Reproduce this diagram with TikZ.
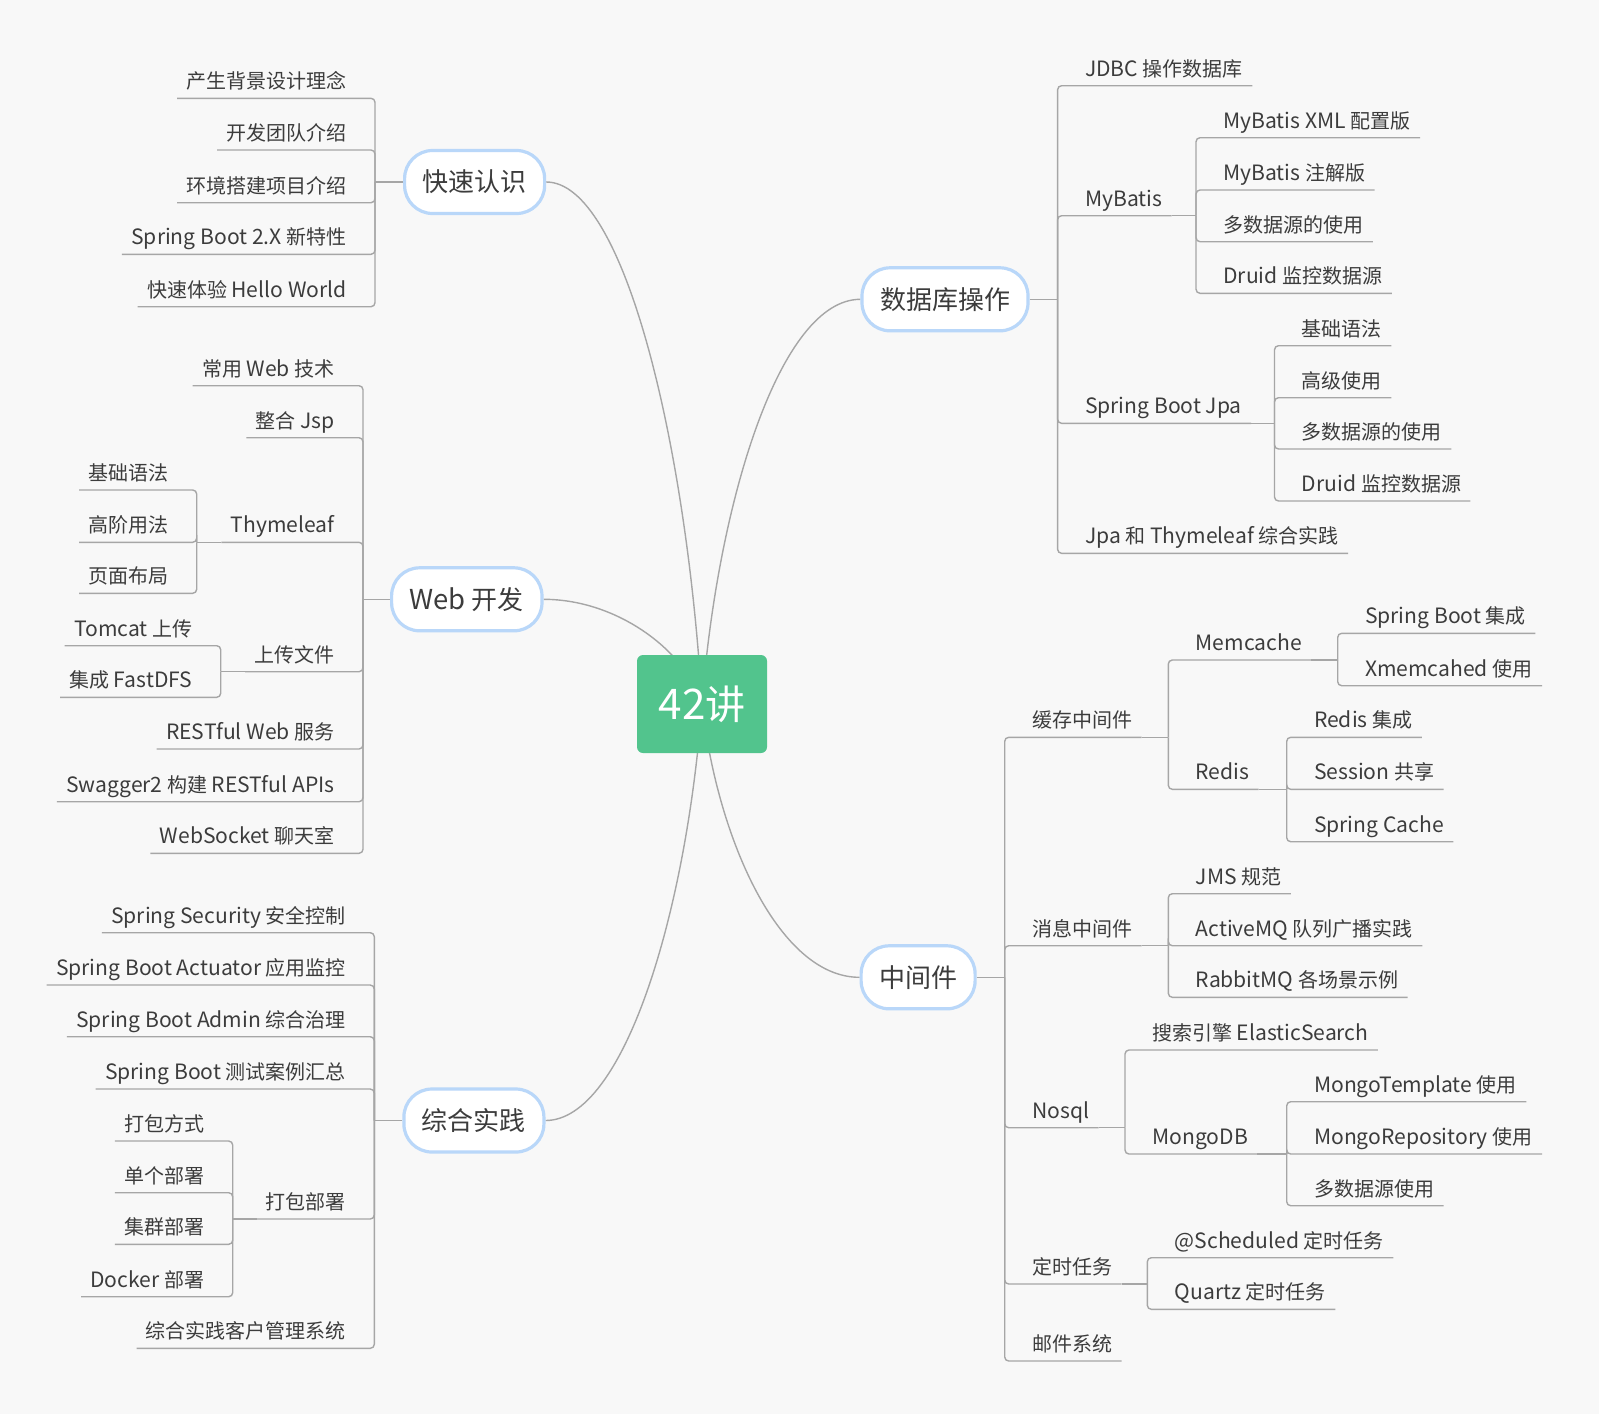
\documentclass[tikz,border=0pt]{standalone}
\usepackage{fontspec}
\setmainfont{Noto Sans CJK SC}[Scale=1.055]
\newfontfamily\cjkfont{Noto Sans CJK SC}
\newfontfamily\latinfont{Noto Sans CJK SC}[Scale=1.055]
\ifdefined\newXeTeXintercharclass
  \newXeTeXintercharclass\cjkcls
\else
  \chardef\cjkcls=1
\fi
\newcount\tmpc
\tmpc="4E00
\loop
  \XeTeXcharclass\tmpc=\cjkcls
  \advance\tmpc by 1
\ifnum\tmpc<"A000 \repeat
\XeTeXinterchartoks 0 \cjkcls = {\cjkfont}
\XeTeXinterchartoks 4095 \cjkcls = {\cjkfont}
\XeTeXinterchartoks \cjkcls 0 = {\latinfont}
\XeTeXinterchartoks 4095 0 = {\latinfont}
\XeTeXinterchartokenstate=1
\usetikzlibrary{calc}
\definecolor{bgc}{HTML}{F8F8F8}
\definecolor{lc}{HTML}{A6A6A6}
\definecolor{txt}{HTML}{3C3C3C}
\definecolor{tb}{HTML}{B9D7F9}
\definecolor{cgreen}{HTML}{52C48D}
\pgfdeclarelayer{bg}
\pgfsetlayers{bg,main}
\tikzset{
  lbl/.style={font=\fontsize{10}{12}\selectfont, text=txt, inner xsep=4.5pt, inner ysep=4.5pt, text depth=0pt},
  lblL/.style={lbl, anchor=south east},
  lblR/.style={lbl, anchor=south west},
  topic/.style={draw=tb, line width=1.6pt, fill=white, rounded corners=14pt, minimum height=31.5pt, inner xsep=9pt, inner ysep=0pt, font=\fontsize{13}{15}\selectfont, text=txt},
  centre/.style={fill=cgreen, rounded corners=3pt, minimum width=65pt, minimum height=49pt, inner sep=0pt, text=white, font=\fontsize{20}{24}\selectfont},
  conn/.style={draw=lc, line width=0.7pt, rounded corners=2pt},
  curve/.style={draw=lc, line width=0.7pt},
}
\begin{document}
\begin{tikzpicture}[x=0.5pt,y=-0.5pt]
\useasboundingbox (0,0) rectangle (1599,1414);
\begin{pgfonlayer}{bg}
\fill[bgc] (0,0) rectangle (1599,1414);
\end{pgfonlayer}

% centre and main topics
\node[centre] (c) at (702,704) {42讲};
\node[topic, anchor=west] (t1) at (403,182) {快速认识};
\node[topic, anchor=west] (t2) at (390,599.3) {Web 开发};
\node[topic, anchor=west] (t3) at (402.3,1120.5) {综合实践};
\node[topic, anchor=east] (t4) at (1029.6,299.3) {数据库操作};
\node[topic, anchor=east] (t5) at (976.7,977.3) {中间件};

\begin{pgfonlayer}{bg}
\draw[curve] (t1.east) .. controls (624,182) and (686.4,443) .. (c.center);
\draw[curve] (t2.east) .. controls (618,599.3) and (686.4,651.6) .. (c.center);
\draw[curve] (t3.east) .. controls (624,1120.5) and (686.4,912.3) .. (c.center);
\draw[curve] (t4.west) .. controls (780,299.3) and (717.6,501.6) .. (c.center);
\draw[curve] (t5.west) .. controls (779.6,977.3) and (717.5,840.6) .. (c.center);
\end{pgfonlayer}

% ---------- 快速认识 ----------
\coordinate (j1) at ($(t1.west)+(-28,0)$);
\draw[conn] (t1.west) -- (j1);
\node[lblL] (a1) at (356,98.3) {产生背景设计理念};
\node[lblL] (a2) at (356,150) {开发团队介绍};
\node[lblL] (a3) at (356,202.7) {环境搭建项目介绍};
\node[lblL] (a4) at (356,254.3) {Spring Boot 2.X 新特性};
\node[lblL] (a5) at (356,306.7) {快速体验 Hello World};
\foreach \n in {a1,a2,a3,a4,a5}
  \draw[conn] (j1) |- (\n.south east) -- (\n.south west);

% ---------- Web 开发 ----------
\coordinate (j2) at ($(t2.west)+(-27,0)$);
\draw[conn] (t2.west) -- (j2);
\node[lblL] (b1) at (344,385.7) {常用 Web 技术};
\node[lblL] (b2) at (344,437.7) {整合 Jsp};
\node[lblL] (b3) at (344,542.3) {Thymeleaf};
\node[lblL] (b4) at (344,671.7) {上传文件};
\node[lblL] (b5) at (344,749) {RESTful Web 服务};
\node[lblL] (b6) at (344,801.7) {Swagger2 构建 RESTful APIs};
\node[lblL] (b7) at (344,853.3) {WebSocket 聊天室};
\foreach \n in {b1,b2,b3,b4,b5,b6,b7}
  \draw[conn] (j2) |- (\n.south east) -- (\n.south west);
\coordinate (jb3) at (196.7,542.3);
\draw[conn] (b3.south west) -- (jb3);
\node[lblL] (b31) at (178,490) {基础语法};
\node[lblL] (b32) at (178,542.3) {高阶用法};
\node[lblL] (b33) at (178,593.3) {页面布局};
\foreach \n in {b31,b32,b33}
  \draw[conn] (jb3) |- (\n.south east) -- (\n.south west);
\coordinate (jb4) at (220.7,671.7);
\draw[conn] (b4.south west) -- (jb4);
\node[lblL] (b41) at (201.7,645.7) {Tomcat 上传};
\node[lblL] (b42) at (201.7,697.3) {集成 FastDFS};
\foreach \n in {b41,b42}
  \draw[conn] (jb4) |- (\n.south east) -- (\n.south west);

% ---------- 综合实践 ----------
\coordinate (j3) at ($(t3.west)+(-28,0)$);
\draw[conn] (t3.west) -- (j3);
\node[lblL] (c1) at (355.3,932.7) {Spring Security 安全控制};
\node[lblL] (c2) at (355.3,985) {Spring Boot Actuator 应用监控};
\node[lblL] (c3) at (355.3,1036.7) {Spring Boot Admin 综合治理};
\node[lblL] (c4) at (355.3,1089) {Spring Boot 测试案例汇总};
\node[lblL] (c5) at (355.3,1219) {打包部署};
\node[lblL] (c6) at (355.3,1348.3) {综合实践客户管理系统};
\foreach \n in {c1,c2,c3,c4,c5,c6}
  \draw[conn] (j3) |- (\n.south east) -- (\n.south west);
\coordinate (jc5) at (232.7,1219);
\draw[conn] (c5.south west) -- (jc5);
\node[lblL] (c51) at (213.7,1141) {打包方式};
\node[lblL] (c52) at (213.7,1192.7) {单个部署};
\node[lblL] (c53) at (213.7,1244.3) {集群部署};
\node[lblL] (c54) at (213.7,1296.7) {Docker 部署};
\foreach \n in {c51,c52,c53,c54}
  \draw[conn] (jc5) |- (\n.south east) -- (\n.south west);

% ---------- 数据库操作 ----------
\coordinate (j4) at ($(t4.east)+(28,0)$);
\draw[conn] (t4.east) -- (j4);
\node[lblR] (d1) at (1075.6,85.7) {JDBC 操作数据库};
\node[lblR] (d2) at (1075.6,215.7) {MyBatis};
\node[lblR] (d3) at (1075.6,423.3) {Spring Boot Jpa};
\node[lblR] (d4) at (1075.6,553.3) {Jpa 和 Thymeleaf 综合实践};
\foreach \n in {d1,d2,d3,d4}
  \draw[conn] (j4) |- (\n.south west) -- (\n.south east);
\coordinate (jd2) at (1196,215.7);
\draw[conn] (d2.south east) -- (jd2);
\node[lblR] (d21) at (1214,137.7) {MyBatis XML 配置版};
\node[lblR] (d22) at (1214,190) {MyBatis 注解版};
\node[lblR] (d23) at (1214,241.7) {多数据源的使用};
\node[lblR] (d24) at (1214,293.3) {Druid 监控数据源};
\foreach \n in {d21,d22,d23,d24}
  \draw[conn] (jd2) |- (\n.south west) -- (\n.south east);
\coordinate (jd3) at (1274.5,423.3);
\draw[conn] (d3.south east) -- (jd3);
\node[lblR] (d31) at (1292.5,345.7) {基础语法};
\node[lblR] (d32) at (1292.5,397.7) {高级使用};
\node[lblR] (d33) at (1292.5,449) {多数据源的使用};
\node[lblR] (d34) at (1292.5,501) {Druid 监控数据源};
\foreach \n in {d31,d32,d33,d34}
  \draw[conn] (jd3) |- (\n.south west) -- (\n.south east);

% ---------- 中间件 ----------
\coordinate (j5) at ($(t5.east)+(28,0)$);
\draw[conn] (t5.east) -- (j5);
\node[lblR] (e1) at (1022.7,737.3) {缓存中间件};
\node[lblR] (e2) at (1022.7,945.7) {消息中间件};
\node[lblR] (e3) at (1022.7,1127.7) {Nosql};
\node[lblR] (e4) at (1022.7,1284) {定时任务};
\node[lblR] (e5) at (1022.7,1361) {邮件系统};
\foreach \n in {e1,e2,e3,e4,e5}
  \draw[conn] (j5) |- (\n.south west) -- (\n.south east);
% 缓存中间件
\coordinate (je1) at (1168.3,737.3);
\draw[conn] (e1.south east) -- (je1);
\node[lblR] (e11) at (1186.3,660) {Memcache};
\node[lblR] (e12) at (1186.3,789.3) {Redis};
\foreach \n in {e11,e12}
  \draw[conn] (je1) |- (\n.south west) -- (\n.south east);
\coordinate (je11) at (1337.7,660);
\draw[conn] (e11.south east) -- (je11);
\node[lblR] (e111) at (1355.7,633.3) {Spring Boot 集成};
\node[lblR] (e112) at (1355.7,685.7) {Xmemcahed 使用};
\foreach \n in {e111,e112}
  \draw[conn] (je11) |- (\n.south west) -- (\n.south east);
\coordinate (je12) at (1286.7,789.3);
\draw[conn] (e12.south east) -- (je12);
\node[lblR] (e121) at (1304.7,737.3) {Redis 集成};
\node[lblR] (e122) at (1304.7,789.3) {Session 共享};
\node[lblR] (e123) at (1304.7,841.7) {Spring Cache};
\foreach \n in {e121,e122,e123}
  \draw[conn] (je12) |- (\n.south west) -- (\n.south east);
% 消息中间件
\coordinate (je2) at (1168.3,945.7);
\draw[conn] (e2.south east) -- (je2);
\node[lblR] (e21) at (1186.3,893.7) {JMS 规范};
\node[lblR] (e22) at (1186.3,945.7) {ActiveMQ 队列广播实践};
\node[lblR] (e23) at (1186.3,997.3) {RabbitMQ 各场景示例};
\foreach \n in {e21,e22,e23}
  \draw[conn] (je2) |- (\n.south west) -- (\n.south east);
% Nosql
\coordinate (je3) at (1125,1127.7);
\draw[conn] (e3.south east) -- (je3);
\node[lblR] (e31) at (1143,1050) {搜索引擎 ElasticSearch};
\node[lblR] (e32) at (1143,1154) {MongoDB};
\foreach \n in {e31,e32}
  \draw[conn] (je3) |- (\n.south west) -- (\n.south east);
\coordinate (je32) at (1286.7,1154);
\draw[conn] (e32.south east) -- (je32);
\node[lblR] (e321) at (1304.7,1101.7) {MongoTemplate 使用};
\node[lblR] (e322) at (1304.7,1154) {MongoRepository 使用};
\node[lblR] (e323) at (1304.7,1205.7) {多数据源使用};
\foreach \n in {e321,e322,e323}
  \draw[conn] (je32) |- (\n.south west) -- (\n.south east);
% 定时任务
\coordinate (je4) at (1147.3,1284);
\draw[conn] (e4.south east) -- (je4);
\node[lblR] (e41) at (1165.3,1257.7) {@Scheduled 定时任务};
\node[lblR] (e42) at (1165.3,1309.3) {Quartz 定时任务};
\foreach \n in {e41,e42}
  \draw[conn] (je4) |- (\n.south west) -- (\n.south east);
\end{tikzpicture}
\end{document}
